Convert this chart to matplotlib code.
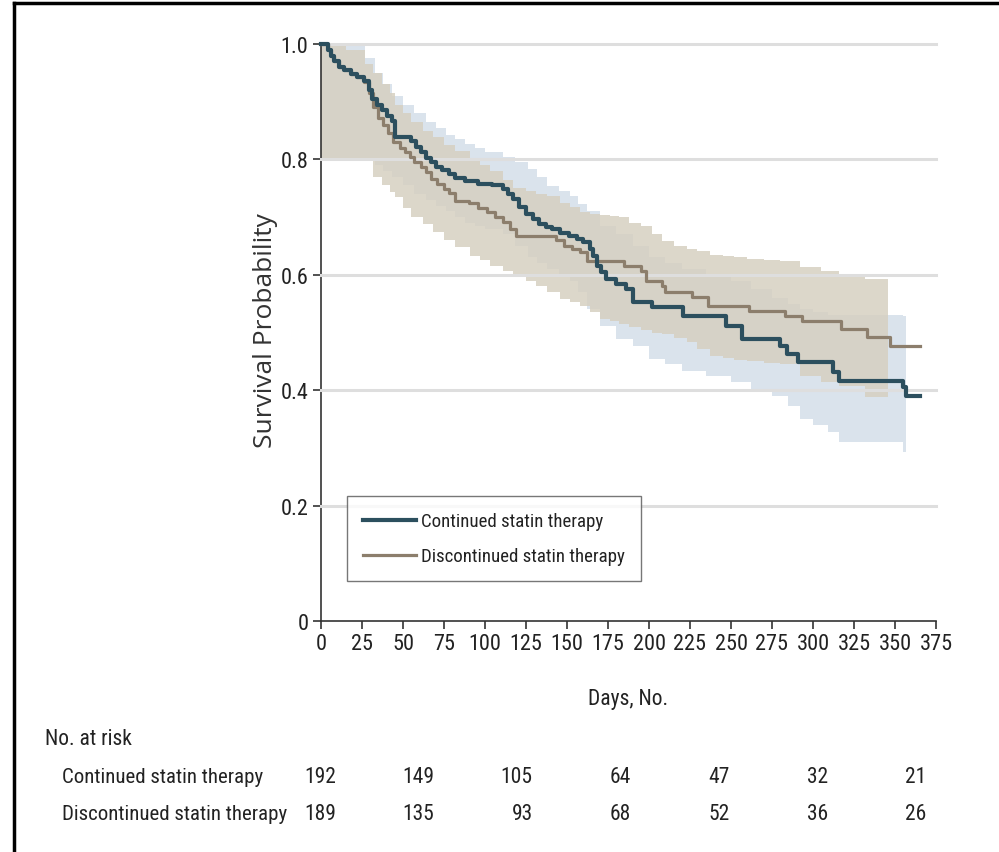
import matplotlib
matplotlib.use("Agg")
import matplotlib.pyplot as plt
from matplotlib.lines import Line2D

plt.rcParams['font.family'] = ['Roboto Condensed', 'Liberation Sans Narrow', 'DejaVu Sans']
plt.rcParams['font.stretch'] = 'condensed'

# Kaplan-Meier estimates (day, survival after that day)
cont_days = [0, 4, 6, 8, 11, 14, 18, 22, 26, 29, 31, 34, 37, 40, 43, 45, 55, 58, 61, 64,
             67, 70, 74, 78, 82, 88, 96, 104, 111, 114, 117, 121, 125, 129, 133, 137, 141,
             146, 151, 156, 160, 164, 166, 168, 171, 174, 180, 186, 190, 202, 221, 247, 257,
             280, 284, 291, 312, 316, 355, 357, 365]
cont_surv = [1.0, 0.99, 0.98, 0.97, 0.96, 0.955, 0.948, 0.942, 0.936, 0.92, 0.905, 0.895,
             0.885, 0.875, 0.866, 0.838, 0.832, 0.822, 0.812, 0.803, 0.795, 0.787, 0.781,
             0.775, 0.767, 0.762, 0.758, 0.755, 0.749, 0.74, 0.731, 0.718, 0.705, 0.696,
             0.688, 0.683, 0.679, 0.673, 0.668, 0.662, 0.657, 0.645, 0.633, 0.616, 0.605,
             0.593, 0.584, 0.575, 0.553, 0.544, 0.529, 0.512, 0.489, 0.477, 0.463, 0.449,
             0.432, 0.416, 0.405, 0.39, 0.39]

disc_days = [0, 4, 6, 8, 11, 14, 18, 22, 26, 29, 32, 35, 38, 41, 44, 48, 51, 54, 57, 61,
             64, 67, 71, 75, 78, 82, 90, 96, 101, 106, 111, 115, 119, 143, 148, 153, 158,
             162, 185, 195, 198, 208, 210, 226, 236, 261, 283, 293, 317, 333, 347, 365]
disc_surv = [1.0, 0.99, 0.98, 0.97, 0.96, 0.955, 0.948, 0.942, 0.934, 0.915, 0.89, 0.872,
             0.86, 0.845, 0.83, 0.82, 0.813, 0.804, 0.795, 0.787, 0.778, 0.766, 0.757,
             0.748, 0.742, 0.728, 0.724, 0.716, 0.709, 0.70, 0.691, 0.68, 0.668, 0.66,
             0.65, 0.645, 0.639, 0.624, 0.616, 0.606, 0.59, 0.581, 0.57, 0.561, 0.546,
             0.538, 0.529, 0.52, 0.506, 0.492, 0.477, 0.477]

# 95% confidence bands
cont_ci_days = [0, 27, 33, 38, 43, 50, 57, 64, 70, 76, 82, 88, 94, 100, 111, 118, 126, 132,
                138, 145, 152, 157, 162, 170, 180, 190, 200, 210, 220, 235, 250, 262, 275,
                285, 292, 300, 309, 316, 355, 357]
cont_upper = [1.0, 0.975, 0.95, 0.93, 0.91, 0.895, 0.88, 0.865, 0.855, 0.843, 0.835, 0.826,
              0.82, 0.812, 0.805, 0.795, 0.783, 0.77, 0.754, 0.745, 0.737, 0.722, 0.71,
              0.685, 0.67, 0.65, 0.63, 0.62, 0.61, 0.60, 0.59, 0.575, 0.56, 0.55, 0.54,
              0.535, 0.53, 0.53, 0.529, 0.529]
cont_lower = [0.80, 0.80, 0.79, 0.78, 0.77, 0.755, 0.74, 0.73, 0.72, 0.71, 0.70, 0.69,
              0.685, 0.68, 0.67, 0.65, 0.63, 0.62, 0.61, 0.60, 0.59, 0.57, 0.54, 0.512,
              0.489, 0.477, 0.454, 0.445, 0.434, 0.425, 0.414, 0.397, 0.39, 0.373, 0.35,
              0.34, 0.327, 0.31, 0.293, 0.293]

disc_ci_days = [0, 15, 27, 32, 37, 42, 45, 50, 55, 62, 68, 75, 82, 91, 97, 103, 111, 117,
                125, 131, 138, 146, 152, 158, 164, 170, 176, 182, 188, 195, 202, 208, 215,
                223, 229, 237, 245, 252, 260, 270, 280, 292, 305, 316, 332, 346]
disc_upper = [1.0, 0.99, 0.965, 0.95, 0.93, 0.915, 0.895, 0.88, 0.865, 0.85, 0.838, 0.825,
              0.815, 0.80, 0.79, 0.78, 0.765, 0.75, 0.745, 0.74, 0.737, 0.725, 0.717, 0.709,
              0.705, 0.703, 0.702, 0.70, 0.69, 0.685, 0.67, 0.659, 0.65, 0.645, 0.642,
              0.635, 0.632, 0.63, 0.627, 0.625, 0.624, 0.613, 0.607, 0.601, 0.593, 0.593]
disc_lower = [0.80, 0.80, 0.80, 0.77, 0.755, 0.743, 0.735, 0.715, 0.70, 0.688, 0.674, 0.66,
              0.648, 0.633, 0.625, 0.616, 0.607, 0.60, 0.59, 0.581, 0.57, 0.558, 0.552,
              0.546, 0.535, 0.523, 0.52, 0.515, 0.51, 0.505, 0.50, 0.497, 0.49, 0.483,
              0.472, 0.46, 0.456, 0.453, 0.451, 0.448, 0.445, 0.425, 0.415, 0.408, 0.388,
              0.388]

# number at risk table
risk_days = [0, 60, 120, 180, 240, 300, 360]
risk_cont = [192, 149, 105, 64, 47, 32, 21]
risk_disc = [189, 135, 93, 68, 52, 36, 26]

labels = ['Continued statin therapy', 'Discontinued statin therapy']
cont_color = '#2c4f5e'
disc_color = '#8c7e6c'
text_color = '#222222'

fig = plt.figure(figsize=(9.99, 8.53), dpi=100)
ax = fig.add_axes([321 / 999, 1 - 622 / 853, 615 / 999, 577 / 853])

ax.fill_between(cont_ci_days, cont_lower, cont_upper, step='post',
                color='#dae3ec', linewidth=0, zorder=1)
ax.fill_between(disc_ci_days, disc_lower, disc_upper, step='post',
                color='#d6d0c1', alpha=0.85, linewidth=0, zorder=2)

for yv in [0.2, 0.4, 0.6, 0.8, 1.0]:
    ax.axhline(yv, color='#dedede', linewidth=2.2, zorder=3, clip_on=False)

ax.step(disc_days, disc_surv, where='post', color=disc_color, linewidth=2.3,
        zorder=4, label=labels[1], clip_on=False)
ax.step(cont_days, cont_surv, where='post', color=cont_color, linewidth=3.0,
        zorder=5, label=labels[0], clip_on=False)

ax.set_xlim(0, 375)
ax.set_ylim(0, 1.0)
ax.set_xticks(range(0, 376, 25))
ax.set_yticks([0, 0.2, 0.4, 0.6, 0.8, 1.0])
ax.set_yticklabels(['0', '0.2', '0.4', '0.6', '0.8', '1.0'])
for side in ['top', 'right']:
    ax.spines[side].set_visible(False)
for side in ['left', 'bottom']:
    ax.spines[side].set_color('#333333')
    ax.spines[side].set_linewidth(1.2)
ax.tick_params(direction='out', length=6, width=1.2, color='#333333',
               labelsize=16, labelcolor=text_color, pad=3)

handles, labs = ax.get_legend_handles_labels()
leg = ax.legend(handles[::-1], labs[::-1], loc='lower left',
                bbox_to_anchor=(0.042, 0.069), borderaxespad=0, fontsize=13.6,
                frameon=True, fancybox=False, handlelength=2.8, handletextpad=0.3,
                borderpad=0.85, labelspacing=0.9)
leg.get_frame().set_edgecolor('#555555')
leg.get_frame().set_linewidth(1.0)
for t in leg.get_texts():
    t.set_color(text_color)

fig.text(266 / 999, 1 - 331 / 853, 'Survival Probability', rotation=90,
         ha='center', va='center', fontsize=19, color='#333333',
         family=['Open Sans', 'DejaVu Sans'], fontstretch='normal')

ax.text(0.5, (622 - 700) / 577, 'Days, No.', transform=ax.transAxes,
        ha='center', va='center', fontsize=15.5, color=text_color)

# number at risk
tr = ax.get_xaxis_transform()
ax.text(-321 / 615 * 375 + 45 / 1.64, (622 - 740) / 577, 'No. at risk', transform=tr,
        ha='left', va='center', fontsize=15.5, color=text_color, clip_on=False)
row_y = [(622 - 778) / 577, (622 - 815) / 577]
for i, (lab, counts) in enumerate(zip(labels, [risk_cont, risk_disc])):
    ax.text(-321 / 615 * 375 + 62 / 1.64, row_y[i], lab, transform=tr,
            ha='left', va='center', fontsize=15, color=text_color, clip_on=False)
    for d, n in zip(risk_days, counts):
        ax.text(d + 9, row_y[i], str(n), transform=tr, ha='right', va='center',
                fontsize=15.5, color=text_color, clip_on=False)

# frame lines at left and top
fig.add_artist(Line2D([14 / 999, 14 / 999], [0, 1 - 4 / 853], color='black', linewidth=2.5))
fig.add_artist(Line2D([14 / 999, 1], [1 - 4 / 853, 1 - 4 / 853], color='black', linewidth=2.5))

fig.savefig('out.png', dpi=100)
